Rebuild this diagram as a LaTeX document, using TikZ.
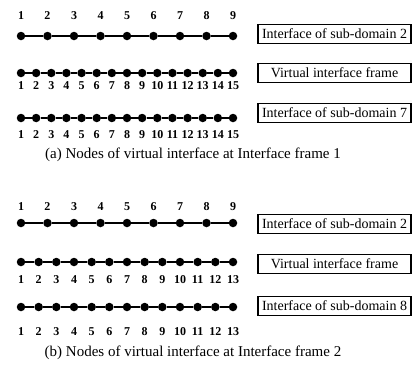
\documentclass[tikz,border=0pt]{standalone}
\usepackage{fontspec}
\setmainfont{Liberation Serif}
\begin{document}
\begin{tikzpicture}[x=1pt,y=-1pt,
  dot/.style={circle,fill=black,inner sep=0pt,minimum size=8.5pt},
  seg/.style={line width=1.7pt},
  num/.style={font=\fontsize{12}{12}\selectfont\bfseries,inner sep=0pt},
  lbox/.style={draw,line width=1.5pt,minimum width=153pt,minimum height=19pt,inner sep=0pt,font=\fontsize{14}{14}\selectfont},
  captext/.style={font=\fontsize{15}{16}\selectfont,inner sep=0pt}]
\useasboundingbox (0,0) rectangle (413,367);
% ---------- rows: name / count / dot y / label y ----------
\foreach \r/\n/\y/\ly in {aa/9/36/16, ab/15/73/86, ac/15/118/135, ba/9/223/207, bb/13/262/280, bc/13/307/332}{
  \pgfmathsetmacro{\dx}{212/(\n-1)}
  \foreach \i in {1,...,\n}{
    \node[dot] (\r-\i) at ({21+(\i-1)*\dx},\y) {};
    \node[num] (\r-l\i) at ({21+(\i-1)*\dx},\ly) {\i};
  }
  \pgfmathtruncatemacro{\m}{\n-1}
  \foreach \i in {1,...,\m}{
    \pgfmathtruncatemacro{\j}{\i+1}
    \draw[seg] (\r-\i) -- (\r-\j);
  }
}
% ---------- boxes ----------
\node[lbox] (bxa1) at (334.5,34) {Interface of sub-domain 2};
\node[lbox] (bxa2) at (334.5,73) {Virtual interface frame};
\node[lbox] (bxa3) at (334.5,113) {Interface of sub-domain 7};
\node[lbox] (bxb1) at (334.5,224) {Interface of sub-domain 2};
\node[lbox] (bxb2) at (334.5,264) {Virtual interface frame};
\node[lbox] (bxb3) at (334.5,306) {Interface of sub-domain 8};
% ---------- captions ----------
\node[captext] (capa) at (193,155) {(a) Nodes of virtual interface at Interface frame 1};
\node[captext] (capb) at (193,353) {(b) Nodes of virtual interface at Interface frame 2};
\end{tikzpicture}
\end{document}
